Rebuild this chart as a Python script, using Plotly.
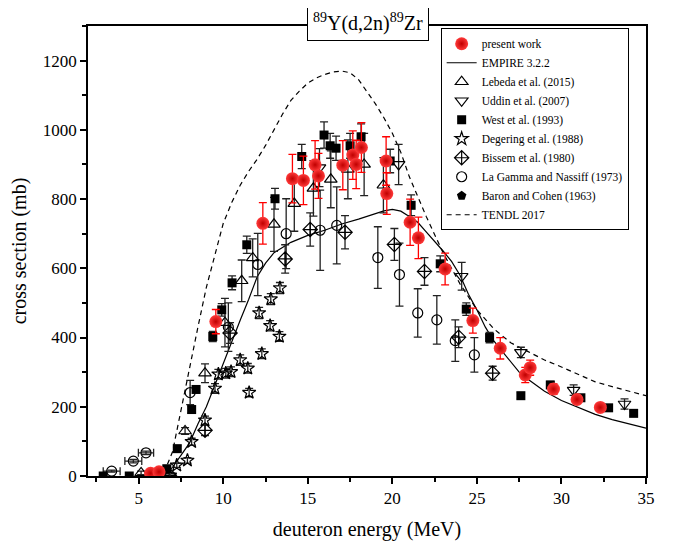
import plotly.graph_objects as go

# ---------------- data ----------------
# present work
pw_E = [5.7, 6.2, 9.56, 12.34, 14.09, 14.74, 15.43, 15.63, 17.07, 17.66, 17.86, 18.17, 19.63, 19.67, 21.05, 21.54, 23.12, 24.76, 26.38, 27.86, 28.15, 29.53, 30.92, 32.3]
pw_s = [8, 12, 446, 730, 859, 854, 899, 867, 898, 927, 900, 949, 910, 816, 733, 688, 598, 449, 369, 292, 313, 251, 221, 198]
pw_err = [5, 5, 35, 60, 70, 70, 70, 65, 71, 70, 70, 72, 70, 60, 67, 60, 46, 36, 31, 22, 22, 15, 12, 10]

# EMPIRE 3.2.2
emp_E = [6.0, 6.5, 7, 7.5, 8, 8.5, 9, 9.5, 10, 10.5, 11, 11.5, 12, 12.5, 13, 14, 15, 16, 17, 18, 19, 19.5, 20, 20.5, 21, 21.5, 22, 22.5, 23, 23.5, 24, 24.5, 25, 25.5, 26, 26.5, 27, 27.5, 28, 29, 30, 31, 32, 33, 34, 35]
emp_s = [0, 3, 25, 60, 95, 150, 200, 262, 325, 390, 450, 510, 575, 615, 645, 675, 695, 710, 728, 742, 758, 766, 770, 765, 750, 733, 705, 678, 650, 620, 580, 525, 480, 430, 390, 360, 330, 300, 280, 245, 218, 198, 178, 163, 150, 138]

# TENDL 2017
ten_E = [6.0, 6.5, 7, 7.5, 8, 8.5, 9, 9.5, 10, 10.5, 11, 11.5, 12, 12.5, 13, 13.5, 14, 14.5, 15, 15.5, 16, 16.5, 17, 17.5, 18, 18.5, 19, 19.5, 20, 20.5, 21, 22, 23, 24, 25, 26, 27, 28, 29, 30, 31, 32, 33, 34, 35]
ten_s = [0, 10, 70, 190, 320, 430, 545, 640, 730, 790, 840, 880, 915, 955, 1000, 1045, 1085, 1112, 1135, 1150, 1160, 1167, 1170, 1165, 1145, 1110, 1075, 1035, 990, 935, 865, 750, 645, 555, 480, 425, 385, 360, 335, 315, 293, 272, 258, 245, 232]

# Lebeda et al. (2015)
leb_E = [5.14, 7.74, 8.92, 10.1, 11.09, 11.74, 13.0, 14.2, 15.33, 16.36, 17.37, 18.33, 19.47]
leb_s = [9, 130, 297, 443, 564, 630, 727, 787, 831, 857, 886, 900, 840]
leb_err = [5, 10, 27, 70, 60, 55, 78, 80, 80, 82, 85, 90, 80]

# Uddin et al. (2007)
udd_E = [15.69, 20.37, 24.1, 27.6, 30.72, 33.73]
udd_s = [891, 900, 577, 357, 248, 208]
udd_err = [55, 58, 40, 15, 15, 15]

# West et al. (1993)
wes_E = [2.9, 4.44, 6.66, 7.28, 8.13, 8.39, 9.38, 9.91, 10.52, 11.39, 13.06, 14.64, 15.96, 16.32, 16.67, 17.5, 18.15, 19.87, 21.11, 22.83, 24.37, 25.75, 27.6, 29.34, 31.15, 32.79, 34.27]
wes_s = [0, 0, 21, 79, 192, 250, 403, 480, 558, 668, 801, 923, 985, 954, 947, 954, 980, 910, 782, 613, 482, 400, 232, 263, 226, 197, 181]
wes_err = [3, 3, 5, 8, 10, 10, 15, 18, 20, 25, 30, 35, 38, 36, 35, 36, 37, 34, 30, 23, 18, 15, 9, 10, 8, 7, 7]

# Degering et al. (1988)
deg_E = [6.85, 7.25, 7.88, 8.13, 8.92, 9.51, 9.71, 10.15, 10.46, 11.0, 11.45, 11.53, 12.12, 12.28, 12.77, 12.81, 13.32, 13.35]
deg_s = [2, 31, 45, 99, 161, 253, 294, 297, 301, 335, 311, 241, 471, 353, 434, 511, 403, 543]
deg_err = [4, 6, 8, 10, 12, 14, 14, 14, 14, 15, 14, 12, 16, 14, 15, 16, 14, 16]

# Bissem et al. (1980)
bis_E = [6.81, 8.92, 10.4, 13.66, 15.14, 17.2, 20.12, 21.9, 23.92, 25.93]
bis_s = [2, 132, 413, 627, 712, 704, 669, 591, 401, 297]
bis_err = [8, 15, 30, 41, 48, 48, 46, 40, 30, 20]

# La Gamma and Nassiff (1973)
lag_E = [3.4, 4.68, 5.43, 8.04, 10.3, 12.04, 13.72, 15.73, 16.71, 19.14, 20.42, 21.5, 22.63, 23.72, 24.85]
lag_s = [14, 43, 67, 241, 430, 611, 700, 710, 724, 631, 582, 471, 451, 391, 350]
lag_err = [3, 5, 5, 35, 70, 90, 101, 116, 111, 89, 91, 70, 70, 60, 50]
lag_xerr = [0.5, 0.5, 0.45, 0, 0, 0, 0, 0, 0, 0, 0, 0, 0, 0, 0]

# Baron and Cohen (1963)
bar_E = [6.0]
bar_s = [4]

FONT = "Liberation Serif"
BLK = "#222222"

fig = go.Figure()

fig.add_trace(go.Scatter(x=ten_E, y=ten_s, mode="lines", name="TENDL 2017", legendrank=10,
                         line=dict(color="black", width=1.2, dash="5px,4px")))
fig.add_trace(go.Scatter(x=emp_E, y=emp_s, mode="lines", name="EMPIRE 3.2.2", legendrank=2,
                         line=dict(color="black", width=1.2)))

def eb(arr, color=BLK):
    return dict(type="data", array=arr, visible=True, color=color, thickness=1.3, width=4)

fig.add_trace(go.Scatter(x=lag_E, y=lag_s, mode="markers", name="La Gamma and Nassiff (1973)", legendrank=8,
                         error_y=eb(lag_err), error_x=eb(lag_xerr),
                         marker=dict(symbol="circle-open", size=10, color="black", line=dict(width=1.2))))
fig.add_trace(go.Scatter(x=bis_E, y=bis_s, mode="markers", name="Bissem et al. (1980)", legendrank=7,
                         error_y=eb(bis_err),
                         marker=dict(symbol="diamond-cross-open", size=11, color="black", line=dict(width=1.2))))
fig.add_trace(go.Scatter(x=deg_E, y=deg_s, mode="markers", name="Degering et al. (1988)", legendrank=6,
                         error_y=eb(deg_err),
                         marker=dict(symbol="star-open", size=10, color="black", line=dict(width=1.2))))
fig.add_trace(go.Scatter(x=udd_E, y=udd_s, mode="markers", name="Uddin et al. (2007)", legendrank=4,
                         error_y=eb(udd_err),
                         marker=dict(symbol="triangle-down-open", size=11, color="black", line=dict(width=1.2))))
fig.add_trace(go.Scatter(x=leb_E, y=leb_s, mode="markers", name="Lebeda et al. (2015)", legendrank=3,
                         error_y=eb(leb_err),
                         marker=dict(symbol="triangle-up-open", size=11, color="black", line=dict(width=1.2))))
fig.add_trace(go.Scatter(x=wes_E, y=wes_s, mode="markers", name="West et al. (1993)", legendrank=5,
                         error_y=eb(wes_err),
                         marker=dict(symbol="square", size=9, color="black")))
fig.add_trace(go.Scatter(x=bar_E, y=bar_s, mode="markers", name="Baron and Cohen (1963)", legendrank=9,
                         marker=dict(symbol="pentagon", size=10, color="black")))
fig.add_trace(go.Scatter(x=pw_E, y=pw_s, mode="markers", name="present work", legendrank=1,
                         error_y=eb(pw_err, "red"),
                         marker=dict(symbol="circle", size=13, color="#ff3a3a",
                                     gradient=dict(type="radial", color="#c00000"),
                                     line=dict(width=0))))

fig.add_annotation(text="<sup>89</sup>Y(d,2n)<sup>89</sup>Zr", xref="paper", yref="paper",
                   x=0.501, y=1.0, yshift=4, xanchor="center", yanchor="middle", showarrow=False,
                   font=dict(family=FONT, size=20, color="black"),
                   bordercolor="black", borderwidth=1, borderpad=5, bgcolor="white")

axis_common = dict(showline=True, linecolor="black", linewidth=1.5, mirror=True,
                   ticks="outside", ticklen=6, tickwidth=1.5, tickcolor="black",
                   showgrid=False, zeroline=False, automargin=False,
                   tickfont=dict(family=FONT, size=17, color="black"))

fig.update_xaxes(range=[2, 35], dtick=5, tick0=0,
                 minor=dict(dtick=2.5, ticks="outside", ticklen=4, tickwidth=1.5, tickcolor="black"),
                 title=dict(text="deuteron energy (MeV)", font=dict(family=FONT, size=20, color="black"), standoff=15),
                 **axis_common)
fig.update_yaxes(range=[0, 1300], dtick=200, tick0=0,
                 minor=dict(dtick=100, ticks="outside", ticklen=4, tickwidth=1.5, tickcolor="black"),
                 title=dict(text="cross section (mb)", font=dict(family=FONT, size=20, color="black"), standoff=11),
                 **axis_common)

# page body adds an 8px offset, so the figure is sized to fit inside the window
fig.update_layout(
    width=660, height=533,
    margin=dict(l=80, r=22, t=18, b=65, autoexpand=False),
    plot_bgcolor="white", paper_bgcolor="white",
    font=dict(family=FONT, color="black"),
    legend=dict(x=0.632, y=0.995, xanchor="left", yanchor="top",
                bordercolor="black", borderwidth=1, bgcolor="white",
                font=dict(family=FONT, size=11.5, color="black"),
                tracegroupgap=0, itemwidth=30),
)

fig.write_html("out.html")
